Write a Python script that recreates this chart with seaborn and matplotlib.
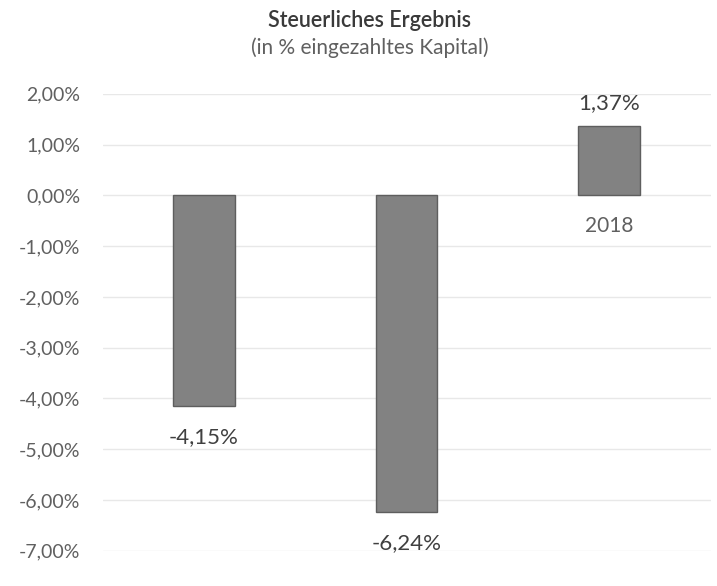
import matplotlib
matplotlib.use("Agg")
import matplotlib.pyplot as plt
import seaborn as sns
import pandas as pd

years = ["2016", "2017", "2018"]
values = [-4.15, -6.24, 1.37]
value_labels = ["-4,15%", "-6,24%", "1,37%"]
y_ticks = [2, 1, 0, -1, -2, -3, -4, -5, -6, -7]
y_tick_labels = ["2,00%", "1,00%", "0,00%", "-1,00%", "-2,00%", "-3,00%",
                 "-4,00%", "-5,00%", "-6,00%", "-7,00%"]

sns.set_theme(style="white")
plt.rcParams["font.family"] = ["Lato", "DejaVu Sans"]

df = pd.DataFrame({"Jahr": years, "Ergebnis": values})

fig = plt.figure(figsize=(7.17, 5.86), dpi=100)
ax = fig.add_axes([0.143, 0.06, 0.848, 0.78])

sns.barplot(data=df, x="Jahr", y="Ergebnis", color="#828282", width=0.305,
            edgecolor="#5e5e5e", linewidth=1.0, saturation=1, ax=ax, zorder=3)

ax.set_ylim(-7, 2)
ax.set_xlim(-0.5, 2.5)
ax.set_yticks(y_ticks)
ax.set_yticklabels(y_tick_labels, color="#606060", fontsize=14)
ax.tick_params(axis="y", length=0, pad=16)
ax.set_xticks([])
ax.set_xlabel("")
ax.set_ylabel("")
for s in ax.spines.values():
    s.set_visible(False)
ax.grid(axis="y", color="#e8e8e8", linewidth=1.0, zorder=0)
ax.set_axisbelow(True)

# category names sit just below the zero line, behind the bars
for i, yr in enumerate(years):
    ax.annotate(yr, (i, 0), xytext=(0, -15), textcoords="offset points",
                ha="center", va="top", fontsize=15, color="#606060", zorder=1)

# value labels at the bar ends
for i, (v, lab) in enumerate(zip(values, value_labels)):
    if v >= 0:
        ax.annotate(lab, (i, v), xytext=(0, 9), textcoords="offset points",
                    ha="center", va="bottom", fontsize=16, color="#404040")
    else:
        ax.annotate(lab, (i, v), xytext=(0, -15), textcoords="offset points",
                    ha="center", va="top", fontsize=16, color="#404040")

fig.text(0.516, 0.965, "Steuerliches Ergebnis", ha="center", va="center",
         fontsize=15.5, color="#3a3a3a", fontweight="semibold")
fig.text(0.516, 0.918, "(in % eingezahltes Kapital)", ha="center", va="center",
         fontsize=15, color="#606060")

fig.savefig("out.png", dpi=100, facecolor="white")
